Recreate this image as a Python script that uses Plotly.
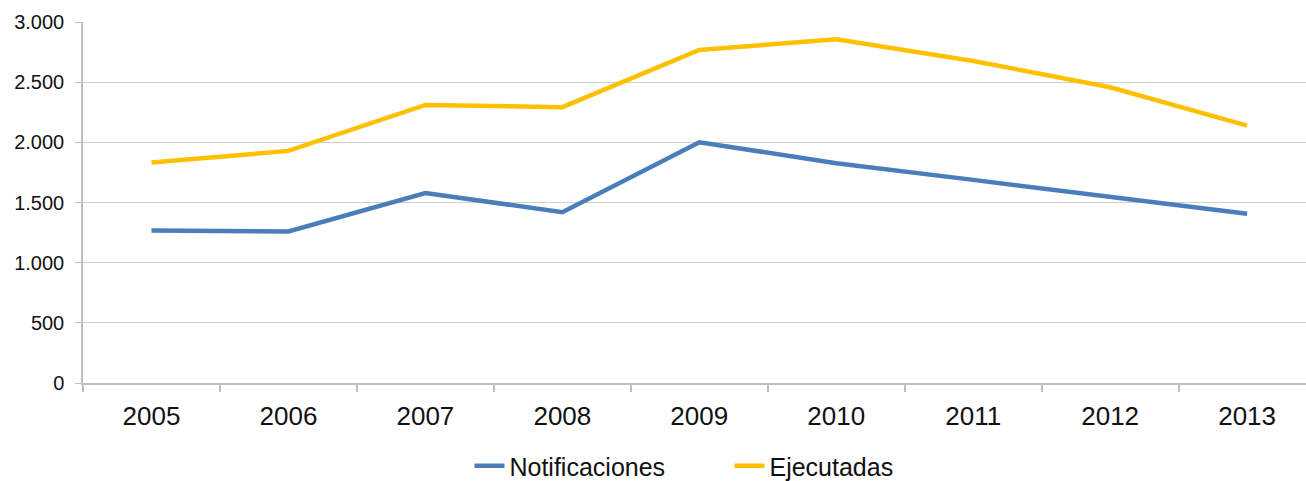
import plotly.graph_objects as go

years = ["2005", "2006", "2007", "2008", "2009", "2010", "2011", "2012", "2013"]
notificaciones = [1267, 1259, 1578, 1420, 2001, 1827, 1688, 1544, 1406]
ejecutadas = [1832, 1929, 2311, 2292, 2768, 2856, 2676, 2458, 2139]
y_ticks = [0, 500, 1000, 1500, 2000, 2500, 3000]

fig = go.Figure()
fig.add_trace(go.Scatter(x=years, y=notificaciones, name="Notificaciones", mode="lines",
                         line=dict(color="#4A7EBB", width=4.5)))
fig.add_trace(go.Scatter(x=years, y=ejecutadas, name="Ejecutadas", mode="lines",
                         line=dict(color="#FFC000", width=4.5)))

fig.update_layout(
    width=1306, height=481,
    margin=dict(l=83, r=0, t=22, b=98, autoexpand=False),
    paper_bgcolor="white", plot_bgcolor="white",
    separators=",.",
    font=dict(family="Liberation Sans, Arial, sans-serif", color="#111111"),
    showlegend=True,
    legend=dict(orientation="h", x=0.316, xanchor="left", y=-0.23, yanchor="middle",
                font=dict(size=25), itemwidth=30, entrywidth=215, tracegroupgap=0),
)
fig.update_xaxes(
    type="category", range=[-0.5, 8.43], automargin=False,
    showgrid=False, showline=True, linecolor="#BFBFBF", linewidth=1.5,
    ticks="outside", tickson="boundaries", ticklen=7, tickcolor="#BFBFBF", tickwidth=1.5,
    tickfont=dict(size=26), ticklabelstandoff=9,
)
fig.update_yaxes(
    range=[0, 3000], tickvals=y_ticks, tickformat=",d", automargin=False,
    showgrid=True, gridcolor="#D0D0D0", gridwidth=1.2,
    showline=True, linecolor="#BFBFBF", linewidth=1.5,
    ticks="outside", ticklen=6, tickcolor="#BFBFBF",
    tickfont=dict(size=20), zeroline=False, ticklabelstandoff=7,
)

fig.write_html("out.html", config={"displayModeBar": False})

with open("out.html", "r", encoding="utf-8") as f:
    html = f.read()
html = html.replace("<body>", '<body style="margin:0;padding:0;overflow:hidden">', 1)
with open("out.html", "w", encoding="utf-8") as f:
    f.write(html)
